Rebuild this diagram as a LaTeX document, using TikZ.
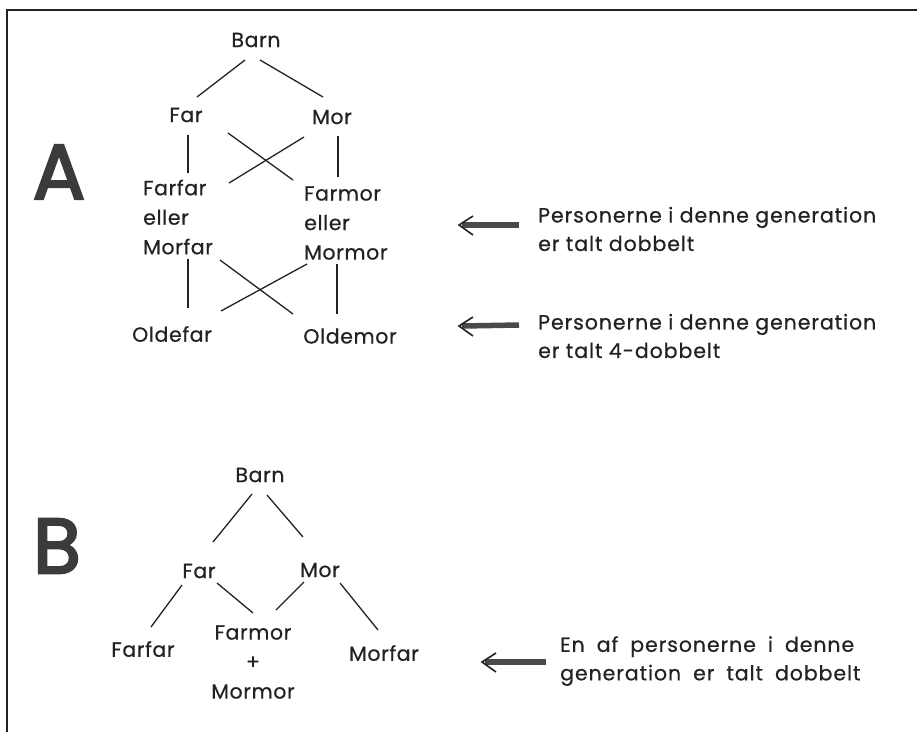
\documentclass[tikz,border=0pt]{standalone}
\usepackage{fontspec}
\setmainfont{Poppins}[FakeBold=0.6]
\newfontfamily\treefont{Poppins}[LetterSpace=3,FakeBold=0.6]
\newfontfamily\notefont{Poppins}[LetterSpace=4.5,FakeBold=0.6]
\newfontfamily\bigfont{Poppins}[FakeBold=3]
\newcommand\widewordsp{\spaceskip=12pt plus 1pt\relax}
\definecolor{ink}{HTML}{222222}
\definecolor{bigletter}{HTML}{3A3C3A}
\definecolor{shaft}{HTML}{4A4A4A}
\begin{document}
\begin{tikzpicture}[x=1pt,y=-1pt,
  lbl/.style={inner sep=0pt, text=ink, font=\treefont\fontsize{20.5}{29.5}\selectfont},
  rtext/.style={inner sep=0pt, text=ink, anchor=west, align=left, font=\notefont\fontsize{20.5}{28.5}\selectfont},
  big/.style={inner sep=0pt, text=bigletter, font=\bigfont\fontsize{78}{80}\selectfont},
  link/.style={draw=ink, line width=1.3pt},
  frameline/.style={draw=ink, line width=1.6pt}]
\useasboundingbox (0,0) rectangle (917,732);
% frame
\draw[frameline] (7,732) -- (7,10) -- (917,10);

% ---------------- A ----------------
\node[big] (A) at (59,172) {A};
\node[lbl] (aBarn) at (256,40) {Barn};
\node[lbl] (aFar) at (186,115) {Far};
\node[lbl] (aMor) at (332,117) {Mor};
\node[lbl, anchor=west, align=left] (aFF) at (143,217) {Farfar\\eller\\Morfar};
\node[lbl, anchor=west, align=left] (aFM) at (304,223) {Farmor\\eller\\Mormor};
\node[lbl] (aOF) at (172,334) {Oldefar};
\node[lbl] (aOM) at (350,336) {Oldemor};

\coordinate (b1) at (245,60); \coordinate (b2) at (197,97);
\coordinate (b3) at (260,60); \coordinate (b4) at (323,97);
\draw[link] (b1) -- (b2);
\draw[link] (b3) -- (b4);
\coordinate (f1) at (188,135); \coordinate (f2) at (188,173);
\coordinate (m1) at (338,136); \coordinate (m2) at (338,177);
\draw[link] (f1) -- (f2);
\draw[link] (m1) -- (m2);
\coordinate (x1) at (228,133); \coordinate (x2) at (293,180);
\coordinate (x3) at (304,137); \coordinate (x4) at (229,183);
\draw[link] (x1) -- (x2);
\draw[link] (x3) -- (x4);
\coordinate (g1) at (188,259); \coordinate (g2) at (188,308);
\coordinate (h1) at (337,264); \coordinate (h2) at (337,314);
\draw[link] (g1) -- (g2);
\draw[link] (h1) -- (h2);
\coordinate (y1) at (220,260); \coordinate (y2) at (293,314);
\coordinate (y3) at (307,264); \coordinate (y4) at (221,311);
\draw[link] (y1) -- (y2);
\draw[link] (y3) -- (y4);

% arrows and texts A
\coordinate (ar1s) at (519,225); \coordinate (ar1t) at (459,225);
\draw[draw=shaft, line width=5.5pt] (ar1s) -- ([xshift=3pt]ar1t);
\draw[draw=ink, line width=1.6pt, line join=miter] ([xshift=14pt,yshift=-10pt]ar1t) -- (ar1t) -- ([xshift=14pt,yshift=9pt]ar1t);
\node[rtext] (t1) at (538,229) {Personerne i denne generation\\er talt dobbelt};

\coordinate (ar2s) at (519,325); \coordinate (ar2t) at (459,326);
\draw[draw=shaft, line width=5.5pt] (ar2s) -- ([xshift=3pt]ar2t);
\draw[draw=ink, line width=1.6pt, line join=miter] ([xshift=14pt,yshift=-10pt]ar2t) -- (ar2t) -- ([xshift=14pt,yshift=9pt]ar2t);
\node[rtext] (t2) at (538,336) {Personerne i denne generation\\er talt 4-dobbelt};

% ---------------- B ----------------
\node[big] (B) at (57,546) {B};
\node[lbl] (bBarn) at (260,475) {Barn};
\node[lbl] (bFar) at (199,571) {Far};
\node[lbl] (bMor) at (320,570) {Mor};
\node[lbl] (bFF) at (143,649) {Farfar};
\node[lbl, align=center] (bFM) at (253,662) {Farmor\\+\\Mormor};
\node[lbl] (bMF) at (384,653) {Morfar};

\coordinate (c1) at (252,494); \coordinate (c2) at (213,542);
\coordinate (c3) at (267,495); \coordinate (c4) at (303,537);
\draw[link] (c1) -- (c2);
\draw[link] (c3) -- (c4);
\coordinate (d1) at (182,585); \coordinate (d2) at (151,627);
\coordinate (d3) at (217,583); \coordinate (d4) at (253,613);
\coordinate (d5) at (304,582); \coordinate (d6) at (276,610);
\coordinate (d7) at (340,583); \coordinate (d8) at (378,630);
\draw[link] (d1) -- (d2);
\draw[link] (d3) -- (d4);
\draw[link] (d5) -- (d6);
\draw[link] (d7) -- (d8);

\coordinate (ar3s) at (546,662); \coordinate (ar3t) at (482,662);
\draw[draw=shaft, line width=5.5pt] (ar3s) -- ([xshift=3pt]ar3t);
\draw[draw=ink, line width=1.6pt, line join=miter] ([xshift=14pt,yshift=-10pt]ar3t) -- (ar3t) -- ([xshift=14pt,yshift=9pt]ar3t);
\node[rtext] (t3) at (560,661) {\widewordsp En af personerne i denne\\\widewordsp generation er talt dobbelt};
\end{tikzpicture}
\end{document}
